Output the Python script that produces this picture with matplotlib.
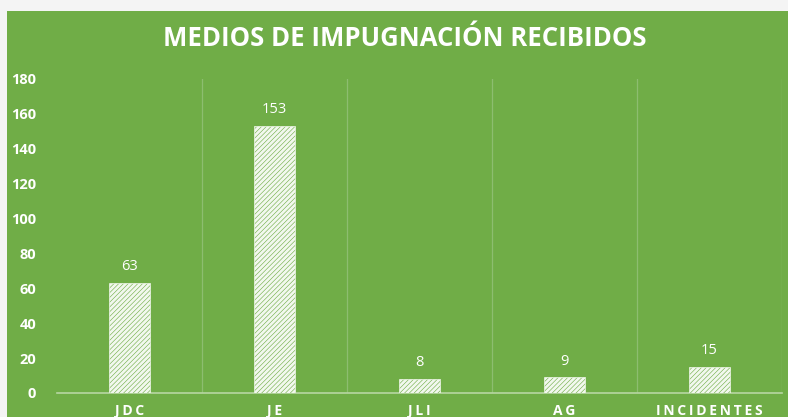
import matplotlib
matplotlib.use("Agg")
import matplotlib.pyplot as plt
from matplotlib.patches import Rectangle

categories = ["JDC", "JE", "JLI", "AG", "INCIDENTES"]
values = [63, 153, 8, 9, 15]
yticks = [0, 20, 40, 60, 80, 100, 120, 140, 160, 180]

GREEN = "#70ad47"
W, H = 788, 417
plt.rcParams['font.family'] = ['Open Sans', 'DejaVu Sans']
plt.rcParams['hatch.linewidth'] = 2.0
plt.rcParams['hatch.color'] = '#f2f8ee'

fig = plt.figure(figsize=(W / 100, H / 100), dpi=100)
fig.patch.set_facecolor("#f4f4f4")
fig.patches.append(Rectangle((7 / W, 0), 1, (H - 11) / H, transform=fig.transFigure,
                             facecolor=GREEN, edgecolor="none", zorder=-5))

ax = fig.add_axes([57 / W, (H - 393) / H, (782 - 57) / W, (393 - 79) / H])
ax.set_zorder(2)
ax.patch.set_alpha(0)

x = range(len(categories))
bars = ax.bar(x, values, width=0.276, facecolor=GREEN, edgecolor="#f2f8ee",
              hatch="/" * 7, linewidth=0.5, zorder=3)
for xi, v in zip(x, values):
    ax.text(xi, v + 5, str(v), ha="center", va="bottom", color="white",
            fontsize=10.5, zorder=4)

ax.set_xlim(-0.5, len(categories) - 0.5)
ax.set_ylim(0, 180)
ax.set_yticks(yticks)
ax.set_yticklabels([str(t) for t in yticks], color="white", fontsize=10.5, fontweight="bold")
ax.tick_params(axis="y", length=0, pad=15)
ax.set_xticks(x)
ax.set_xticklabels(["\u2009".join(c) for c in categories], color="white",
                   fontsize=10, fontweight="bold")
ax.tick_params(axis="x", length=0, pad=8)

for b in [i + 0.5 for i in range(len(categories))]:
    ax.axvline(b, color="#8dbd70", linewidth=0.9, zorder=1)

for s in ["top", "right", "left"]:
    ax.spines[s].set_visible(False)
ax.spines["bottom"].set_color("#b7d6a3")
ax.spines["bottom"].set_linewidth(1.2)

fig.text(405 / W, (H - 39) / H, "MEDIOS DE IMPUGNACIÓN RECIBIDOS",
         ha="center", va="center", color="white", fontsize=18.5, fontweight="bold")

fig.savefig("out.png", dpi=100, facecolor=fig.get_facecolor())
